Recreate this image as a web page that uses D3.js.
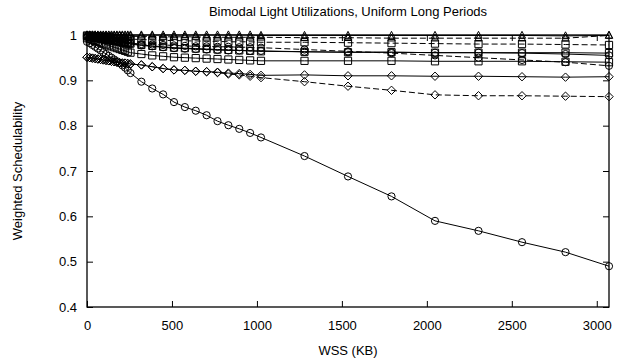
<!DOCTYPE html>
<html>
<head>
<meta charset="utf-8">
<script src="https://cdn.jsdelivr.net/npm/d3@7"></script>
<style>
  html, body { margin: 0; padding: 0; background: #fff; }
  svg { display: block; }
  text { font-family: "Liberation Sans", Arial, Helvetica, sans-serif; fill: #000; }
</style>
</head>
<body>
<svg id="chart" width="627" height="362"></svg>
<script>
// Working-set sizes (KB) sampled by the experiment
const wss = [0,16,32,48,64,80,96,112,128,144,160,176,192,208,224,240,256,
             320,384,448,512,576,640,704,768,832,896,960,1024,
             1280,1536,1792,2048,2304,2560,2816,3072];

// Weighted schedulability per series (one value per WSS sample)
const circleSolid = [0.985,0.982,0.978,0.974,0.970,0.966,0.962,0.958,0.954,0.950,0.946,0.942,0.938,0.933,0.928,0.922,0.916,
                     0.897,0.882,0.869,0.852,0.841,0.833,0.823,0.810,0.801,0.793,0.784,0.774,
                     0.733,0.688,0.644,0.590,0.568,0.543,0.521,0.490];
const diamondSolid = [0.951,0.950,0.949,0.948,0.947,0.946,0.945,0.944,0.943,0.942,0.941,0.940,0.939,0.938,0.938,0.937,0.936,
                      0.934,0.930,0.926,0.923,0.922,0.920,0.919,0.918,0.916,0.915,0.913,0.911,
                      0.912,0.910,0.910,0.909,0.909,0.908,0.907,0.908];
const diamondDashed = [0.951,0.950,0.949,0.948,0.947,0.946,0.945,0.944,0.943,0.942,0.941,0.940,0.939,0.938,0.938,0.937,0.936,
                       0.934,0.930,0.926,0.923,0.922,0.920,0.919,0.917,0.914,0.912,0.909,0.906,
                       0.897,0.887,0.878,0.868,0.866,0.866,0.865,0.864];
const triangleSolid = [1.000,1.000,1.000,1.000,1.000,1.000,1.000,1.000,1.000,1.000,1.000,1.000,1.000,1.000,1.000,1.000,1.000,
                       1.000,1.000,1.000,1.000,1.000,1.000,1.000,1.000,1.000,1.000,1.000,0.999,
                       0.999,0.999,0.999,0.999,0.999,0.999,0.998,0.999];
const triangleDashed = [1.000,1.000,1.000,1.000,0.999,0.999,0.999,0.999,0.999,0.998,0.998,0.998,0.998,0.998,0.997,0.997,0.997,
                        0.997,0.997,0.996,0.996,0.996,0.996,0.995,0.995,0.995,0.995,0.995,0.995,
                        0.994,0.994,0.993,0.993,0.993,0.993,0.993,0.999];
const squareDashed = [0.999,0.998,0.998,0.997,0.997,0.996,0.996,0.995,0.995,0.994,0.994,0.993,0.993,0.992,0.992,0.991,0.991,
                      0.990,0.989,0.988,0.988,0.987,0.987,0.986,0.986,0.985,0.985,0.985,0.984,
                      0.984,0.983,0.982,0.981,0.980,0.980,0.979,0.978];
const circleDashed = [0.998,0.997,0.996,0.995,0.994,0.993,0.992,0.991,0.990,0.989,0.988,0.987,0.986,0.985,0.984,0.983,0.982,
                      0.980,0.979,0.978,0.977,0.976,0.975,0.975,0.974,0.974,0.973,0.973,0.972,
                      0.968,0.964,0.960,0.955,0.950,0.945,0.940,0.932];
const circleSolid2 = [0.996,0.995,0.994,0.993,0.992,0.991,0.990,0.989,0.988,0.987,0.986,0.985,0.984,0.983,0.982,0.981,0.980,
                      0.977,0.975,0.973,0.971,0.970,0.969,0.968,0.967,0.966,0.966,0.965,0.965,
                      0.963,0.962,0.962,0.961,0.961,0.960,0.958,0.955];
const squareSolid = [0.993,0.991,0.989,0.987,0.985,0.983,0.981,0.979,0.977,0.975,0.973,0.971,0.969,0.967,0.965,0.963,0.961,
                     0.958,0.955,0.953,0.951,0.950,0.949,0.948,0.947,0.946,0.945,0.944,0.943,
                     0.943,0.943,0.943,0.942,0.942,0.942,0.941,0.940];
const squareSolid2 = [0.997,0.996,0.995,0.994,0.993,0.992,0.991,0.990,0.989,0.988,0.987,0.986,0.985,0.984,0.983,0.982,0.981,
                      0.978,0.976,0.974,0.972,0.971,0.970,0.969,0.968,0.967,0.966,0.965,0.964,
                      0.963,0.962,0.962,0.961,0.961,0.961,0.961,0.960];

const series = [
  { values: circleSolid,    marker: "circle",   dashed: false },
  { values: diamondDashed,  marker: "diamond",  dashed: true  },
  { values: diamondSolid,   marker: "diamond",  dashed: false },
  { values: squareSolid,    marker: "square",   dashed: false },
  { values: circleDashed,   marker: "circle",   dashed: true  },
  { values: squareSolid2,   marker: "square",   dashed: false },
  { values: circleSolid2,   marker: "circle",   dashed: false },
  { values: squareDashed,   marker: "square",   dashed: true  },
  { values: triangleDashed, marker: "triangle", dashed: true  },
  { values: triangleSolid,  marker: "triangle", dashed: false }
];

const xTicks = [0, 500, 1000, 1500, 2000, 2500, 3000];
const yTicks = [0.4, 0.5, 0.6, 0.7, 0.8, 0.9, 1.0];

const svg = d3.select("#chart");
const margin = { left: 87, right: 18, top: 35, bottom: 55 };
const W = 627, H = 362;
const x = d3.scaleLinear().domain([0, 3072]).range([margin.left, W - margin.right]);
const y = d3.scaleLinear().domain([0.4, 1.0]).range([H - margin.bottom, margin.top]);

const tickLen = 6;
const fmtY = d => (d === 1 ? "1" : d3.format(".1f")(d));
const fmtX = d3.format("d");

// Axes with inward ticks, mirrored on the opposite sides
const gx = svg.append("g").attr("transform", `translate(0,${y(0.4)})`)
  .call(d3.axisBottom(x).tickValues(xTicks).tickFormat(fmtX).tickSizeInner(-tickLen).tickSizeOuter(0).tickPadding(14));
const gxTop = svg.append("g").attr("transform", `translate(0,${y(1.0)})`)
  .call(d3.axisTop(x).tickValues(xTicks).tickSizeInner(-tickLen).tickSizeOuter(0).tickFormat(""));
const gy = svg.append("g").attr("transform", `translate(${x(0)},0)`)
  .call(d3.axisLeft(y).tickValues(yTicks).tickFormat(fmtY).tickSizeInner(-tickLen).tickSizeOuter(0).tickPadding(10));
const gyRight = svg.append("g").attr("transform", `translate(${x(3072)},0)`)
  .call(d3.axisRight(y).tickValues(yTicks).tickSizeInner(-tickLen).tickSizeOuter(0).tickFormat(""));

[gx, gxTop, gy, gyRight].forEach(g => {
  g.select(".domain").remove();
  g.selectAll(".tick line").attr("stroke", "#000").attr("stroke-width", 1);
  g.selectAll("text").style("font-size", "13px").attr("fill", "#000");
});

// Plot frame
svg.append("rect")
  .attr("x", x(0)).attr("y", y(1.0))
  .attr("width", x(3072) - x(0)).attr("height", y(0.4) - y(1.0))
  .attr("fill", "none").attr("stroke", "#000").attr("stroke-width", 1.3);

// Series lines and open markers
const line = d3.line().x((d, i) => x(wss[i])).y(d => y(d));
const r = 3.6;
function markerPath(type) {
  switch (type) {
    case "circle": return d3.symbol().type(d3.symbolCircle).size(Math.PI * r * r)();
    case "square": return `M${-r},${-r}H${r}V${r}H${-r}Z`;
    case "diamond": return `M0,${-r - 0.6}L${r + 0.6},0L0,${r + 0.6}L${-r - 0.6},0Z`;
    case "triangle": return `M0,${-r - 0.5}L${r},${r - 0.8}L${-r},${r - 0.8}Z`;
  }
}

series.forEach(s => {
  svg.append("path")
    .datum(s.values)
    .attr("d", line)
    .attr("fill", "none")
    .attr("stroke", "#000")
    .attr("stroke-width", 1)
    .attr("stroke-dasharray", s.dashed ? "6,3" : null);
  svg.append("g").selectAll("path")
    .data(s.values)
    .join("path")
    .attr("transform", (d, i) => `translate(${x(wss[i])},${y(d)})`)
    .attr("d", markerPath(s.marker))
    .attr("fill", "none")
    .attr("stroke", "#000")
    .attr("stroke-width", 1);
});

// Title and axis labels
svg.append("text")
  .attr("x", (x(0) + x(3072)) / 2).attr("y", 16)
  .attr("text-anchor", "middle").style("font-size", "13px")
  .text("Bimodal Light Utilizations, Uniform Long Periods");
svg.append("text")
  .attr("x", (x(0) + x(3072)) / 2).attr("y", 355)
  .attr("text-anchor", "middle").style("font-size", "13px")
  .text("WSS (KB)");
svg.append("text")
  .attr("transform", `translate(22,${(y(0.4) + y(1.0)) / 2}) rotate(-90)`)
  .attr("text-anchor", "middle").style("font-size", "13px")
  .text("Weighted Schedulability");
</script>
</body>
</html>
